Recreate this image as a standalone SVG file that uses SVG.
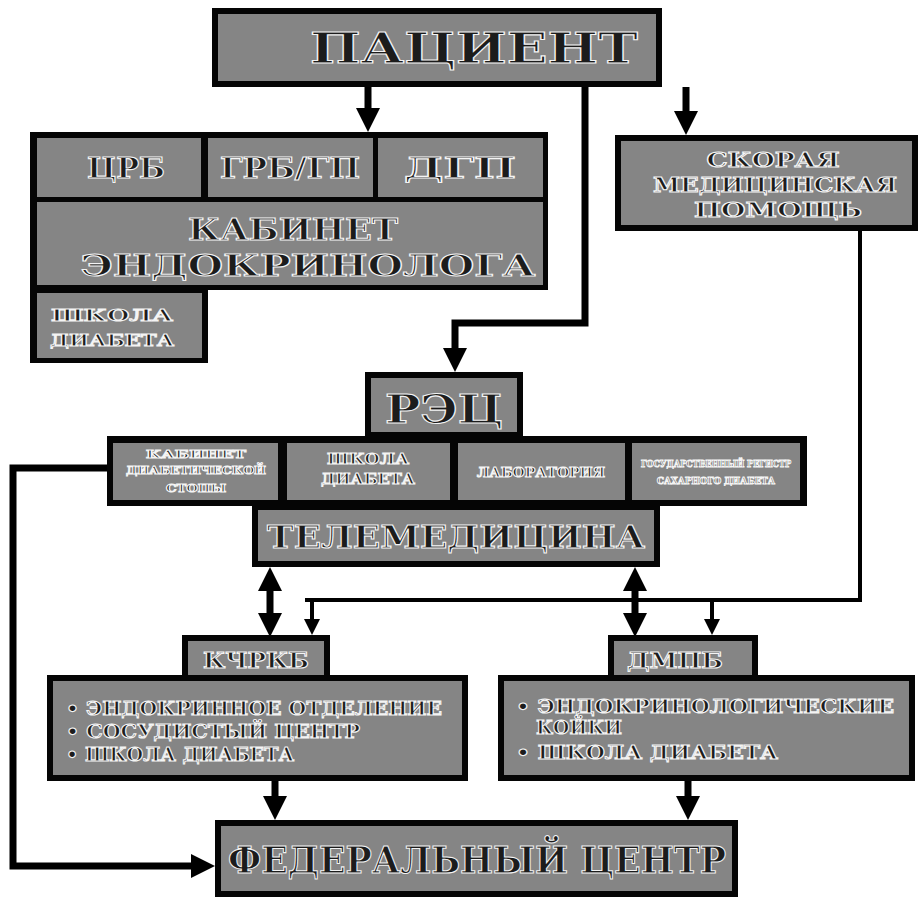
<svg xmlns="http://www.w3.org/2000/svg" width="923" height="907" viewBox="0 0 923 907">
<style>
.o{fill:#050505}
.i{fill:#858585}
.t{font-family:"DejaVu Serif","Liberation Serif",serif;font-weight:bold;fill:#1c1c1c;stroke:#f4f4f4;stroke-width:1.1;text-anchor:middle}
.s{text-anchor:start}
.c{fill:none;stroke:#000;stroke-width:7}
.cs{fill:none;stroke:#000;stroke-width:4}
</style>
<defs>
<marker id="ah" viewBox="0 0 24 24" refX="0" refY="12" markerWidth="24" markerHeight="24" markerUnits="userSpaceOnUse" orient="auto-start-reverse"><path d="M0,0 L24,12 L0,24 Z" fill="#000"/></marker>
<marker id="ahs" viewBox="0 0 16 16" refX="0" refY="8" markerWidth="16" markerHeight="16" markerUnits="userSpaceOnUse" orient="auto"><path d="M0,0 L16,8 L0,16 Z" fill="#000"/></marker>
</defs>
<rect width="923" height="907" fill="#fff"/>

<g id="connectors">
<path class="c" d="M368,87 V108" marker-end="url(#ah)"/>
<path class="c" d="M585,87 V323 H455 V348" marker-end="url(#ah)"/>
<path class="c" d="M686,87 V111" marker-end="url(#ah)"/>
<path class="cs" d="M860,231 V600 H305"/>
<path class="cs" d="M312,600 V619" marker-end="url(#ahs)"/>
<path class="cs" d="M712,600 V619" marker-end="url(#ahs)"/>
<path class="c" d="M270,591 V613" marker-start="url(#ah)" marker-end="url(#ah)"/>
<path class="c" d="M635,591 V613" marker-start="url(#ah)" marker-end="url(#ah)"/>
<path class="c" d="M275,781 V796" marker-end="url(#ah)"/>
<path class="c" d="M688,781 V796" marker-end="url(#ah)"/>
<path class="c" d="M107,468 H13 V866 H191" marker-end="url(#ah)"/>
</g>

<g id="patient">
<rect class="o" x="212" y="8" width="450" height="79"/>
<rect class="i" x="218" y="14" width="438" height="67"/>
<text class="t" x="474" y="63" font-size="42" textLength="328" lengthAdjust="spacingAndGlyphs">ПАЦИЕНТ</text>
</g>

<g id="cluster-frame">
<path class="o" d="M30,132 H548 V290 H208 V363 H30 Z"/>
</g>
<g id="crb">
<rect class="i" x="37" y="138" width="164" height="59"/>
<text class="t" x="126" y="178" font-size="28" textLength="78" lengthAdjust="spacingAndGlyphs">ЦРБ</text>
</g>
<g id="grb">
<rect class="i" x="208" y="138" width="165" height="59"/>
<text class="t" x="290" y="178" font-size="28" textLength="140" lengthAdjust="spacingAndGlyphs">ГРБ/ГП</text>
</g>
<g id="dgp">
<rect class="i" x="378" y="138" width="165" height="59"/>
<text class="t" x="460" y="178" font-size="28" textLength="112" lengthAdjust="spacingAndGlyphs">ДГП</text>
</g>
<g id="kabinet">
<rect class="i" x="37" y="202" width="506" height="83"/>
<text class="t" x="293" y="240" font-size="30" textLength="210" lengthAdjust="spacingAndGlyphs">КАБИНЕТ</text>
<text class="t" x="308" y="276" font-size="30" textLength="455" lengthAdjust="spacingAndGlyphs">ЭНДОКРИНОЛОГА</text>
</g>
<g id="shkola1">
<rect class="i" x="37" y="293" width="165" height="65"/>
<text class="t" x="112" y="321" font-size="17" textLength="122" lengthAdjust="spacingAndGlyphs">ШКОЛА</text>
<text class="t" x="112" y="346" font-size="17" textLength="124" lengthAdjust="spacingAndGlyphs">ДИАБЕТА</text>
</g>

<g id="skoraya">
<rect class="o" x="615" y="135" width="303" height="96"/>
<rect class="i" x="621" y="141" width="291" height="84"/>
<text class="t" x="773" y="167" font-size="20" textLength="133" lengthAdjust="spacingAndGlyphs">СКОРАЯ</text>
<text class="t" x="775" y="192" font-size="20" textLength="244" lengthAdjust="spacingAndGlyphs">МЕДИЦИНСКАЯ</text>
<text class="t" x="778" y="217" font-size="20" textLength="168" lengthAdjust="spacingAndGlyphs">ПОМОЩЬ</text>
</g>

<g id="rec">
<rect class="o" x="365" y="372" width="158" height="66"/>
<rect class="i" x="371" y="378" width="146" height="54"/>
<text class="t" x="444" y="423" font-size="40" textLength="118" lengthAdjust="spacingAndGlyphs">РЭЦ</text>
</g>

<g id="rec-row-frame">
<rect class="o" x="107" y="436" width="700" height="70"/>
<rect class="o" x="252" y="500" width="408" height="67"/>
</g>
<g id="kab-stopy">
<rect class="i" x="113" y="443" width="165" height="57"/>
<text class="t" x="196" y="458" font-size="11" stroke-width="0.5" textLength="100" lengthAdjust="spacingAndGlyphs">КАБИНЕТ</text>
<text class="t" x="196" y="474" font-size="11" stroke-width="0.5" textLength="140" lengthAdjust="spacingAndGlyphs">ДИАБЕТИЧЕСКОЙ</text>
<text class="t" x="196" y="492" font-size="11" stroke-width="0.5" textLength="60" lengthAdjust="spacingAndGlyphs">СТОПЫ</text>
</g>
<g id="shkola2">
<rect class="i" x="287" y="443" width="163" height="57"/>
<text class="t" x="368" y="464" font-size="15" stroke-width="0.7" textLength="82" lengthAdjust="spacingAndGlyphs">ШКОЛА</text>
<text class="t" x="368" y="484" font-size="15" stroke-width="0.7" textLength="94" lengthAdjust="spacingAndGlyphs">ДИАБЕТА</text>
</g>
<g id="lab">
<rect class="i" x="458" y="443" width="167" height="57"/>
<text class="t" x="541" y="477" font-size="13" stroke-width="0.6" textLength="128" lengthAdjust="spacingAndGlyphs">ЛАБОРАТОРИЯ</text>
</g>
<g id="registr">
<rect class="i" x="632" y="443" width="168" height="57"/>
<text class="t" x="716" y="467" font-size="9" stroke-width="0.4" textLength="150" lengthAdjust="spacingAndGlyphs">ГОСУДАРСТВЕННЫЙ РЕГИСТР</text>
<text class="t" x="716" y="484" font-size="9" stroke-width="0.4" textLength="118" lengthAdjust="spacingAndGlyphs">САХАРНОГО ДИАБЕТА</text>
</g>
<g id="telemed">
<rect class="i" x="258" y="510" width="396" height="51"/>
<text class="t" x="456" y="548" font-size="32" textLength="378" lengthAdjust="spacingAndGlyphs">ТЕЛЕМЕДИЦИНА</text>
</g>

<g id="kchrkb">
<rect class="o" x="182" y="635" width="148" height="46"/>
<rect class="i" x="188" y="641" width="136" height="34"/>
<text class="t" x="256" y="668" font-size="22" textLength="106" lengthAdjust="spacingAndGlyphs">КЧРКБ</text>
</g>
<g id="kchrkb-list">
<rect class="o" x="47" y="675" width="421" height="106"/>
<rect class="i" x="53" y="681" width="409" height="94"/>
<text class="t s" x="66" y="715" font-size="19" textLength="376" lengthAdjust="spacingAndGlyphs">• ЭНДОКРИННОЕ ОТДЕЛЕНИЕ</text>
<text class="t s" x="66" y="738" font-size="19" textLength="294" lengthAdjust="spacingAndGlyphs">• СОСУДИСТЫЙ ЦЕНТР</text>
<text class="t s" x="66" y="761" font-size="19" textLength="228" lengthAdjust="spacingAndGlyphs">• ШКОЛА ДИАБЕТА</text>
</g>

<g id="dmpb">
<rect class="o" x="608" y="635" width="150" height="46"/>
<rect class="i" x="614" y="641" width="138" height="34"/>
<text class="t" x="675" y="668" font-size="22" textLength="96" lengthAdjust="spacingAndGlyphs">ДМПБ</text>
</g>
<g id="dmpb-list">
<rect class="o" x="498" y="675" width="417" height="106"/>
<rect class="i" x="504" y="681" width="405" height="94"/>
<text class="t s" x="516" y="713" font-size="19" textLength="378" lengthAdjust="spacingAndGlyphs">• ЭНДОКРИНОЛОГИЧЕСКИЕ</text>
<text class="t s" x="536" y="734" font-size="19" textLength="86" lengthAdjust="spacingAndGlyphs">КОЙКИ</text>
<text class="t s" x="516" y="759" font-size="19" textLength="262" lengthAdjust="spacingAndGlyphs">• ШКОЛА ДИАБЕТА</text>
</g>

<g id="federal">
<rect class="o" x="215" y="820" width="523" height="77"/>
<rect class="i" x="221" y="826" width="511" height="65"/>
<text class="t" x="477" y="873" font-size="38" textLength="498" lengthAdjust="spacingAndGlyphs">ФЕДЕРАЛЬНЫЙ ЦЕНТР</text>
</g>
</svg>
